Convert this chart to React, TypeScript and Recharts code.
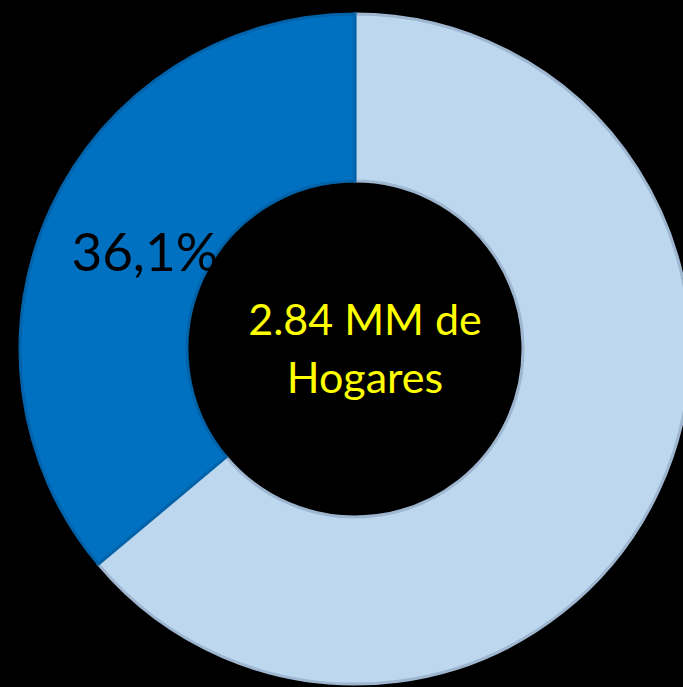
import { Cell, Pie, PieChart } from "recharts";

const segments = ["Resto de hogares", "Hogares"];
const shares = [63.9, 36.1];
const centerLines = ["2.84 MM de", "Hogares"];

const fills = ["#BDD7EE", "#0070C0"];
const strokes = ["#9EB6D0", "#0062A8"];

const data = segments.map((name, i) => ({ name, value: shares[i] }));

const RAD = Math.PI / 180;

// sector 1 gets its percent, sector 0 carries the text in the hole
const renderLabel = (props: any) => {
    const { cx, cy, midAngle, index, value } = props;
    if (index === 0) {
        const tx = cx + 10;
        return (
            <text
                x={tx}
                textAnchor="middle"
                fill="#FFFF00"
                fontFamily="Lato, sans-serif"
                fontSize={43}
            >
                <tspan x={tx} y={cy - 14}>{centerLines[0]}</tspan>
                <tspan x={tx} y={cy + 44}>{centerLines[1]}</tspan>
            </text>
        );
    }
    const r = 232;
    const x = cx + r * Math.cos(-midAngle * RAD);
    const y = cy + r * Math.sin(-midAngle * RAD);
    return (
        <text
            x={x}
            y={y}
            fill="#000000"
            textAnchor="middle"
            dominantBaseline="central"
            fontFamily="Lato, sans-serif"
            fontSize={53}
        >
            {value.toFixed(1).replace(".", ",")}%
        </text>
    );
};

const App = () => {
    return (
        <div
            style={{
                position: "absolute",
                left: 0,
                top: 0,
                width: 683,
                height: 687,
                background: "#000000",
                overflow: "hidden",
            }}
        >
            <PieChart width={683} height={687} margin={{ top: 0, right: 0, bottom: 0, left: 0 }}>
                <Pie
                    data={data}
                    dataKey="value"
                    cx={355}
                    cy={349}
                    innerRadius={168}
                    outerRadius={335}
                    startAngle={90}
                    endAngle={-270}
                    label={renderLabel}
                    labelLine={false}
                    isAnimationActive={false}
                >
                    {data.map((d, i) => (
                        <Cell key={d.name} fill={fills[i]} stroke={strokes[i]} strokeWidth={3} />
                    ))}
                </Pie>
            </PieChart>
        </div>
    );
};

export default App;
